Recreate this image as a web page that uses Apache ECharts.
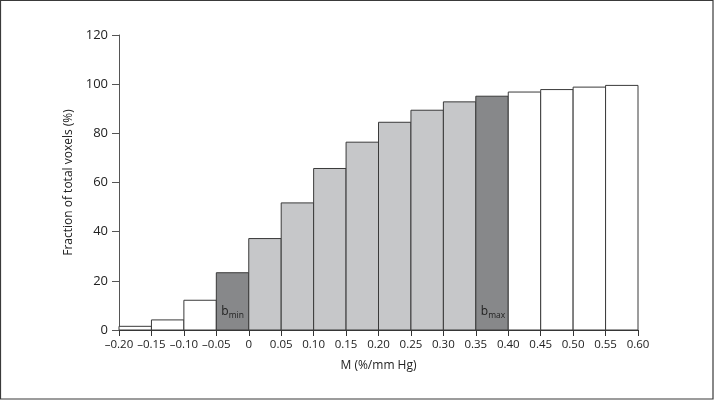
<!DOCTYPE html>
<html>
<head>
<meta charset="utf-8">
<script src="https://cdn.jsdelivr.net/npm/echarts@6/dist/echarts.min.js"></script>
<style>
html,body{margin:0;padding:0;background:#fff;}
#chart{width:714px;height:400px;}
</style>
</head>
<body>
<div id="chart"></div>
<script>
// Bin edges (x tick labels) in %/mm Hg
const binEdges = [-0.20, -0.15, -0.10, -0.05, 0, 0.05, 0.10, 0.15, 0.20, 0.25, 0.30, 0.35, 0.40, 0.45, 0.50, 0.55, 0.60];
// Cumulative fraction of total voxels (%) per bin
const fractions = [1.5, 4.1, 12.1, 23.3, 37.2, 51.7, 65.7, 76.4, 84.5, 89.4, 92.8, 95.1, 96.8, 97.8, 98.8, 99.5];
// Bar shading class per bin: 0 = white, 1 = light gray, 2 = dark gray
const shades = [0, 0, 0, 2, 1, 1, 1, 1, 1, 1, 1, 2, 0, 0, 0, 0];
// Labels inside specific bins
const binLabels = ['', '', '', 'min', '', '', '', '', '', '', '', 'max', '', '', '', ''];
const yTicks = [0, 20, 40, 60, 80, 100, 120];

const fillColors = ['#ffffff', '#c6c7c9', '#87888a'];
const FONT = 'Open Sans';

const data = fractions.map((v, i) => [binEdges[i], binEdges[i + 1], v, shades[i], binLabels[i]]);

function fmtX(v) {
  const r = Math.round(v * 100) / 100;
  if (r === 0) return '0';
  const s = Math.abs(r).toFixed(2);
  return (r < 0 ? '\u2013' : '') + s;
}

const chart = echarts.init(document.getElementById('chart'), null, {renderer: 'canvas'});
chart.setOption({
  animation: false,
  backgroundColor: '#fff',
  graphic: [{
    type: 'rect',
    shape: {x: 0.5, y: 0.5, width: 712.5, height: 398.5},
    style: {fill: 'none', stroke: '#3a3a3a', lineWidth: 1.2},
    silent: true,
    z: 100
  }],
  grid: {left: 119, right: 76, top: 35, bottom: 70, containLabel: false},
  xAxis: {
    type: 'value',
    min: -0.20,
    max: 0.60,
    interval: 0.05,
    name: 'M (%/mm Hg)',
    nameLocation: 'middle',
    nameGap: 30,
    nameTextStyle: {fontFamily: FONT, fontSize: 12, color: '#222'},
    axisLine: {show: true, onZero: false, lineStyle: {color: '#333', width: 1}},
    axisTick: {show: true, length: 6, inside: false, lineStyle: {color: '#333'}},
    axisLabel: {fontFamily: FONT, fontSize: 11.5, color: '#222', margin: 9, formatter: fmtX, showMinLabel: true, showMaxLabel: true},
    splitLine: {show: false}
  },
  yAxis: {
    type: 'value',
    min: yTicks[0],
    max: yTicks[yTicks.length - 1],
    interval: 20,
    name: 'Fraction of total voxels (%)',
    nameLocation: 'middle',
    nameGap: 44,
    nameTextStyle: {fontFamily: FONT, fontSize: 12, color: '#222'},
    axisLine: {show: true, onZero: false, lineStyle: {color: '#555', width: 1}},
    axisTick: {show: true, length: 7, lineStyle: {color: '#555'}},
    axisLabel: {fontFamily: FONT, fontSize: 13, color: '#222', margin: 11},
    splitLine: {show: false}
  },
  series: [{
    type: 'custom',
    data: data,
    encode: {x: [0, 1], y: 2},
    clip: false,
    renderItem: function (params, api) {
      const x0 = api.value(0), x1 = api.value(1), v = api.value(2);
      const shade = api.value(3);
      const lab = data[params.dataIndex][4];
      const pTop = api.coord([x0, v]);
      const pBot = api.coord([x1, 0]);
      const children = [{
        type: 'rect',
        shape: {x: pTop[0], y: pTop[1], width: pBot[0] - pTop[0], height: pBot[1] - pTop[1]},
        style: {fill: fillColors[shade], stroke: '#3a3a3a', lineWidth: 1}
      }];
      if (lab) {
        children.push({
          type: 'text',
          style: {
            x: pTop[0] + 5,
            y: pBot[1] - 19,
            text: '{b|b}{s|' + lab + '}',
            verticalAlign: 'middle',
            rich: {
              b: {fontFamily: FONT, fontSize: 12, fill: '#222', lineHeight: 14, verticalAlign: 'bottom'},
              s: {fontFamily: FONT, fontSize: 8.5, fill: '#222', lineHeight: 14, verticalAlign: 'bottom', padding: [0, 0, -2, 0]}
            }
          }
        });
      }
      return {type: 'group', children: children};
    }
  }]
});
</script>
</body>
</html>
